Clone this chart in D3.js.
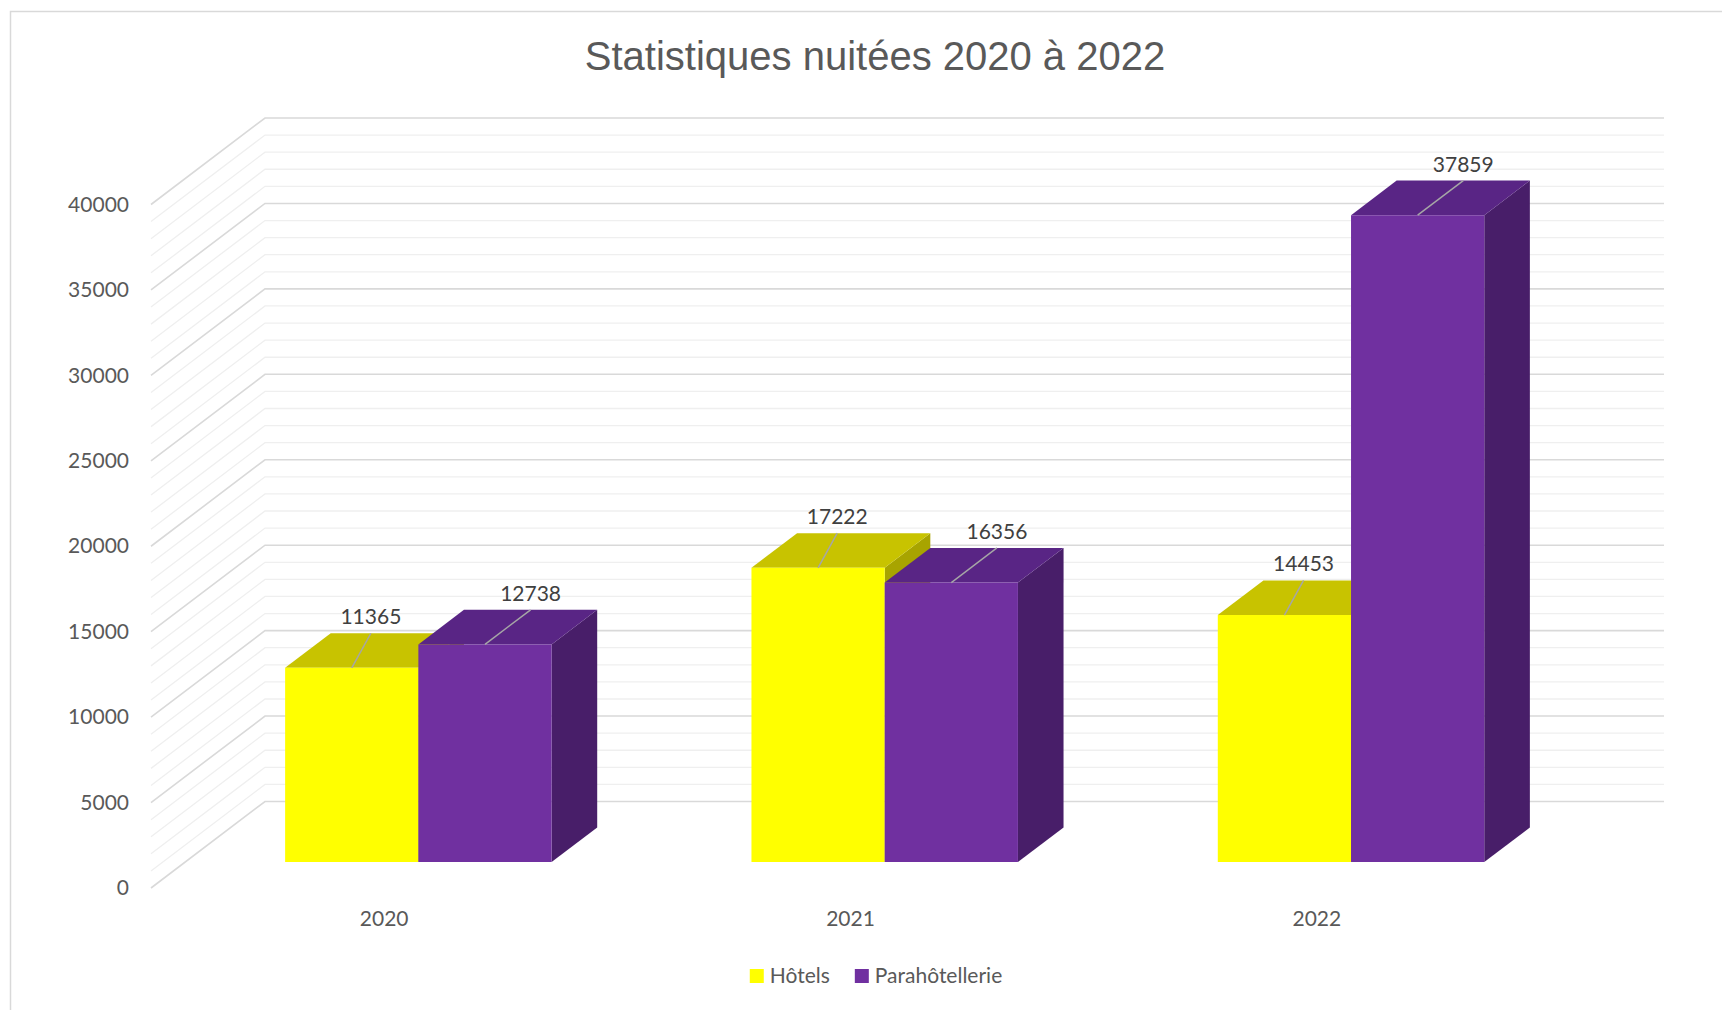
<!DOCTYPE html>
<html>
<head>
<meta charset="utf-8">
<script src="https://cdn.jsdelivr.net/npm/d3@7"></script>
<style>
  body { margin: 0; background: #fff; }
  svg { display: block; }
</style>
</head>
<body>
<svg width="1722" height="1010"></svg>
<script>
// Chart data
const years = ["2020", "2021", "2022"];
const seriesNames = ["Hôtels", "Parahôtellerie"];
const hotels = [11365, 17222, 14453];
const para = [12738, 16356, 37859];
const yTicks = [0, 5000, 10000, 15000, 20000, 25000, 30000, 35000, 40000];

const svg = d3.select("svg"),
    width = +svg.attr("width"),
    height = +svg.attr("height");

// Colors for each series: front, top, side faces
const faces = [
    { front: "#FFFF00", top: "#C8C300", side: "#A8A400" },
    { front: "#7030A0", top: "#592585", side: "#481E69" }
];

// Oblique 3D box: front plane x range, depth offset
const left = 151, right = 1550;
const depthX = 114, depthY = 86.5;
const zFront = 0.3, zBack = 0.7;

const y = d3.scaleLinear().domain([0, 40000]).range([888, 204.5]);
const x0 = d3.scaleBand().domain(years).range([left, right])
    .paddingInner(1.5 / 3.5).paddingOuter(0.75 / 3.5);
const x1 = d3.scaleBand().domain([0, 1]).range([0, x0.bandwidth()]);

// project a point (front x, value, depth) to screen
function proj(px, v, z) {
    return [px + z * depthX, y(v) - z * depthY];
}

// Outer chart border
svg.append("rect")
    .attr("x", 10.5).attr("y", 11.5)
    .attr("width", 1800).attr("height", 1100)
    .attr("fill", "none").attr("stroke", "#d9d9d9").attr("stroke-width", 1.5);

// Title
svg.append("text")
    .attr("x", 875).attr("y", 70)
    .attr("text-anchor", "middle")
    .style("font-family", "'Liberation Sans', Arial, sans-serif")
    .style("font-size", "40px")
    .style("fill", "#595959")
    .text("Statistiques nuitées 2020 à 2022");

// Gridlines on the side wall and back wall (every 1000)
const grid = svg.append("g");
const gridValues = d3.range(0, 40001, 1000);
gridValues.forEach(v => {
    const major = v % 5000 === 0;
    const a = proj(left, v, 0), b = proj(left, v, 1), c = proj(right, v, 1);
    grid.append("path")
        .attr("d", d3.line()([a, b, c]))
        .attr("fill", "none")
        .attr("stroke", major ? "#d9d9d9" : "#efefef")
        .attr("stroke-width", major ? 1.6 : 1.3);
});

// Y axis labels
const yAxis = svg.append("g")
    .attr("transform", `translate(${left},0)`)
    .call(d3.axisLeft(y).tickValues(yTicks).tickFormat(d3.format("d")).tickSize(0).tickPadding(22));
yAxis.select(".domain").remove();
yAxis.selectAll("text")
    .style("font-family", "Lato, sans-serif")
    .style("font-size", "21px")
    .style("fill", "#595959");

// X axis labels
const xAxis = svg.append("g")
    .attr("transform", `translate(0,${y(0)})`)
    .call(d3.axisBottom(x0).tickSize(0).tickPadding(23));
xAxis.select(".domain").remove();
xAxis.selectAll("text")
    .style("font-family", "Lato, sans-serif")
    .style("font-size", "21px")
    .style("fill", "#595959");

// Bars
const bars = [];
years.forEach((yr, i) => {
    [hotels[i], para[i]].forEach((v, s) => {
        bars.push({ year: yr, s: s, value: v });
    });
});

const barG = svg.append("g");
bars.forEach(d => {
    const xa = x0(d.year) + x1(d.s), xb = xa + x1.bandwidth();
    const f = faces[d.s];
    const poly = pts => "M" + pts.map(p => p.join(",")).join("L") + "Z";
    // side face
    barG.append("path")
        .attr("d", poly([proj(xb, 0, zFront), proj(xb, d.value, zFront), proj(xb, d.value, zBack), proj(xb, 0, zBack)]))
        .attr("fill", f.side);
    // top face
    barG.append("path")
        .attr("d", poly([proj(xa, d.value, zFront), proj(xb, d.value, zFront), proj(xb, d.value, zBack), proj(xa, d.value, zBack)]))
        .attr("fill", f.top);
    // front face
    barG.append("path")
        .attr("d", poly([proj(xa, 0, zFront), proj(xb, 0, zFront), proj(xb, d.value, zFront), proj(xa, d.value, zFront)]))
        .attr("fill", f.front);
});

// Data labels with leader lines
const labelG = svg.append("g");
bars.forEach(d => {
    const xc = x0(d.year) + x1(d.s) + x1.bandwidth() / 2;
    const start = proj(xc, d.value, zFront);
    const shift = d.s === 0 ? 0.42 : 1;
    const end = [start[0] + shift * (zBack - zFront) * depthX, start[1] - (zBack - zFront) * depthY];
    labelG.append("line")
        .attr("x1", start[0]).attr("y1", start[1])
        .attr("x2", end[0]).attr("y2", end[1])
        .attr("stroke", "#a6a6a6").attr("stroke-width", 1.5);
    labelG.append("text")
        .attr("x", end[0]).attr("y", end[1] - 9)
        .attr("text-anchor", "middle")
        .style("font-family", "Lato, sans-serif")
        .style("font-size", "21px")
        .style("fill", "#404040")
        .text(d.value);
});

// Legend
const legend = svg.append("g");
let lx = 0;
seriesNames.forEach((name, s) => {
    const item = legend.append("g").attr("transform", `translate(${lx},0)`);
    item.append("rect")
        .attr("x", 0).attr("y", -14).attr("width", 14).attr("height", 14)
        .attr("fill", faces[s].front);
    const t = item.append("text")
        .attr("x", 20).attr("y", 0)
        .style("font-family", "Lato, sans-serif")
        .style("font-size", "21px")
        .style("fill", "#595959")
        .text(name);
    lx += 20 + t.node().getComputedTextLength() + 25;
});
const legendW = lx - 25;
legend.attr("transform", `translate(${876 - legendW / 2},983)`);
</script>
</body>
</html>
